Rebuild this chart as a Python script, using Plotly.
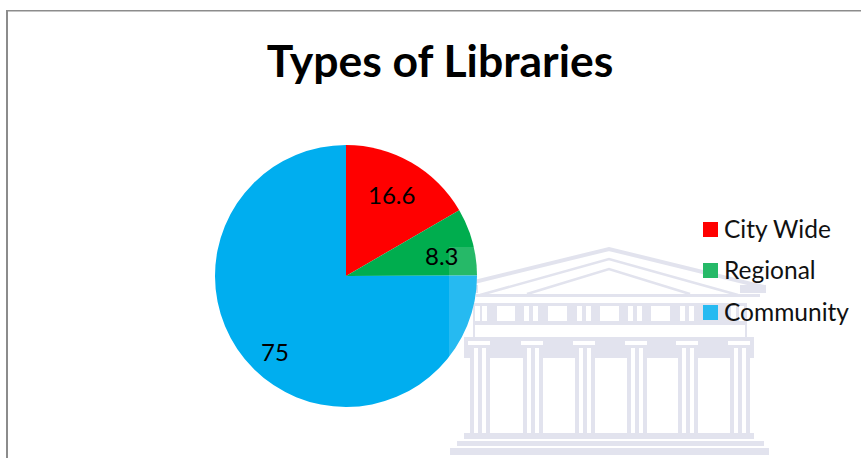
import plotly.graph_objects as go

categories = ["City Wide", "Regional", "Community"]
values = [16.6, 8.3, 75]
colors = ["#FF0000", "#00AD4E", "#00AEEF"]
title_text = "Types of Libraries"

W, H = 861, 458
FONT = "Lato"
WM = "#DDDFEB"


def px(x):
    return x / W


def py(y):
    return 1 - y / H


def rect(x0, y0, x1, y1, color=WM, layer="below", opacity=1):
    return dict(type="rect", xref="paper", yref="paper", x0=px(x0), x1=px(x1),
                y0=py(y0), y1=py(y1), fillcolor=color, line_width=0,
                layer=layer, opacity=opacity)


def poly(points, width=2.5, color=WM):
    d = "M " + " L ".join(f"{px(x):.5f},{py(y):.5f}" for x, y in points)
    return dict(type="path", xref="paper", yref="paper", path=d,
                line=dict(color=color, width=width), layer="below")


shapes = []
# watermark: pediment
shapes += [poly([(454, 287), (609, 249), (764, 287)], 4),
           poly([(480, 295), (609, 259), (738, 295)], 2.5),
           poly([(527, 294), (609, 269), (690, 294)], 2.5)]
shapes.append(rect(452, 285, 478, 293))
shapes.append(rect(740, 285, 766, 293))
shapes.append(rect(476, 294, 760, 297))
# frieze and metopes
shapes.append(rect(473, 303, 747, 325))
for x0, x1 in [(497, 515), (548, 567), (600, 619), (651, 670)]:
    shapes.append(rect(x0, 306, x1, 321, "#FFFFFF"))
for x in [475, 482, 524, 533, 577, 586, 628, 637, 680, 689, 731, 739]:
    shapes.append(rect(x, 306, x + 5, 321, "#FFFFFF"))
shapes.append(rect(472, 325, 748, 337, "#FFFFFF"))
shapes.append(rect(473, 325, 475, 337))
shapes.append(rect(745, 325, 747, 337))
# architrave
shapes.append(rect(464, 337, 754, 358))
col_x = [470, 523, 575, 627, 678, 730]
for x in col_x:
    shapes.append(rect(x - 2, 341, x + 20, 345, "#FFFFFF"))
    shapes.append(rect(x, 348, x + 20, 433))
    shapes.append(rect(x + 4, 348, x + 8, 433, "#FFFFFF"))
    shapes.append(rect(x + 12, 348, x + 16, 433, "#FFFFFF"))
# steps
shapes.append(rect(464, 433, 754, 439))
shapes.append(rect(457, 441, 764, 446))
shapes.append(rect(450, 448, 769, 455))
# frame
shapes.append(rect(6, 10, 861, 11.5, "#8C8C8C", "above"))
shapes.append(rect(6, 10, 8, 458, "#8C8C8C", "above"))
# legend swatches
for y, c in zip([222, 263, 305], colors):
    shapes.append(rect(703, y, 718, y + 15, c, "above"))
# pale wash from the watermark image
shapes.append(rect(449, 247, 861, 458, "#FFFFFF", "above", 0.15))

annotations = [
    dict(text=name, x=px(721.5), y=py(y), xref="paper", yref="paper",
         xanchor="left", yanchor="middle", showarrow=False,
         font=dict(family=FONT, size=24.5, color="#111111"))
    for name, y in zip(categories, [228, 269, 311])
]
annotations += [
    dict(text=str(v), x=px(x), y=py(y), xref="paper", yref="paper",
         xanchor="center", yanchor="middle", showarrow=False,
         font=dict(family=FONT, size=24, color="#000000"))
    for v, x, y in zip(values, [391, 442, 275], [195, 255, 351])
]

fig = go.Figure(go.Pie(
    labels=categories, values=values, sort=False, direction="clockwise",
    rotation=0, marker=dict(colors=colors, line=dict(width=0)),
    textinfo="none",
    domain=dict(x=[px(215), px(477)], y=[py(407), py(145)]),
    showlegend=False, hoverinfo="label+value",
))
fig.update_layout(
    width=W, height=H, margin=dict(l=0, r=0, t=0, b=0),
    paper_bgcolor="#FFFFFF", plot_bgcolor="#FFFFFF",
    title=dict(text=f"<b>{title_text}</b>", x=440 / W, xanchor="center",
               y=py(61), yanchor="middle",
               font=dict(family=FONT, size=44.5, color="#000000")),
    shapes=shapes, annotations=annotations,
)
fig.write_html("out.html", post_script="document.body.style.margin='0';",
               config=dict(displayModeBar=False))
